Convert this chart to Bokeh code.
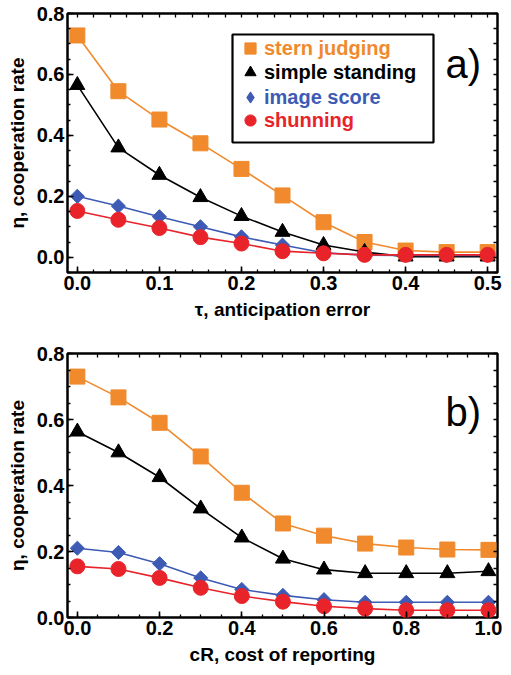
from bokeh.plotting import figure
from bokeh.models import (Legend, LegendItem, Label, BoxAnnotation, LinearAxis,
                          SingleIntervalTicker, FixedTicker, PrintfTickFormatter)
from bokeh.layouts import column
from bokeh.embed import file_html
from bokeh.resources import INLINE
import math

# ---------------- data ----------------
names = ["stern judging", "simple standing", "image score", "shunning"]
colors = ["#F08A2C", "#000000", "#3D5BB5", "#E8242A"]

tau = [0.0, 0.05, 0.10, 0.15, 0.20, 0.25, 0.30, 0.35, 0.40, 0.45, 0.50]
stern_a = [0.728, 0.545, 0.452, 0.374, 0.290, 0.203, 0.115, 0.050, 0.022, 0.017, 0.017]
simple_a = [0.565, 0.360, 0.270, 0.197, 0.135, 0.083, 0.040, 0.017, 0.002, 0.002, 0.002]
image_a = [0.200, 0.168, 0.133, 0.100, 0.067, 0.040, 0.015, 0.007, 0.006, 0.006, 0.006]
shun_a = [0.152, 0.123, 0.096, 0.066, 0.045, 0.020, 0.013, 0.008, 0.008, 0.008, 0.008]

cost = [0.0, 0.1, 0.2, 0.3, 0.4, 0.5, 0.6, 0.7, 0.8, 0.9, 1.0]
stern_b = [0.730, 0.667, 0.590, 0.488, 0.378, 0.285, 0.248, 0.224, 0.212, 0.206, 0.205]
simple_b = [0.563, 0.500, 0.425, 0.330, 0.242, 0.178, 0.145, 0.134, 0.134, 0.134, 0.140]
image_b = [0.210, 0.197, 0.163, 0.120, 0.085, 0.067, 0.054, 0.046, 0.046, 0.046, 0.046]
shun_b = [0.155, 0.147, 0.120, 0.090, 0.065, 0.048, 0.034, 0.027, 0.022, 0.022, 0.022]

y_label = "η, cooperation rate"
x_label_a = "τ, anticipation error"
x_label_b = "cR, cost of reporting"

# mirror tick positions (top / right frame edges)
mirror_x_a = [i * 0.02 for i in range(26)]
mirror_x_b = [i * 0.05 for i in range(21)]
mirror_y_a = [-0.05 + i * 0.05 for i in range(18)]
mirror_y_b = [i * 0.05 for i in range(17)]

FONT = "Liberation Sans"
markers = [("square", 15, 0.0), ("triangle", 15, 0.0), ("square", 10, math.pi / 4), ("circle", 15, 0.0)]


def style_axis(ax, ticker, labels=True, fmt="%.1f"):
    ax.ticker = ticker
    ax.axis_line_color = None
    ax.major_tick_in = 6
    ax.major_tick_out = 0
    ax.minor_tick_in = 3
    ax.minor_tick_out = 0
    ax.major_tick_line_width = 1.6
    ax.minor_tick_line_width = 1.3
    ax.major_tick_line_color = "black"
    ax.minor_tick_line_color = "black"
    if labels:
        ax.formatter = PrintfTickFormatter(format=fmt)
        ax.major_label_text_font = FONT
        ax.major_label_text_font_style = "bold"
        ax.major_label_text_font_size = "20px"
        ax.major_label_text_color = "black"
        ax.major_label_standoff = 3
        ax.axis_label_text_font = FONT
        ax.axis_label_text_font_style = "bold"
        ax.axis_label_text_font_size = "19px"
        ax.axis_label_text_color = "black"
        ax.axis_label_standoff = 6
    else:
        ax.minor_tick_in = 4
        ax.major_label_standoff = 0


def make_panel(xs, series, xr, yr, xint, xminor, mx, my, xlabel, tag,
               border_top, border_bottom, fh, tag_y):
    p = figure(frame_width=430, frame_height=fh, x_range=xr, y_range=yr,
               output_backend="svg", toolbar_location=None,
               min_border_left=67, min_border_right=6,
               min_border_top=border_top, min_border_bottom=border_bottom)
    p.grid.visible = False
    p.outline_line_color = "black"
    p.outline_line_width = 2.5
    p.background_fill_color = "white"
    p.border_fill_color = "white"

    style_axis(p.xaxis[0], SingleIntervalTicker(interval=xint, num_minor_ticks=xminor))
    style_axis(p.yaxis[0], SingleIntervalTicker(interval=0.2, num_minor_ticks=4))
    p.xaxis[0].axis_label = xlabel
    p.yaxis[0].axis_label = y_label

    top = LinearAxis()
    style_axis(top, FixedTicker(ticks=[], minor_ticks=mx), labels=False)
    p.add_layout(top, "above")
    right = LinearAxis()
    style_axis(right, FixedTicker(ticks=[], minor_ticks=my), labels=False)
    p.add_layout(right, "right")

    scat = []
    for ys, col, (mk, sz, ang) in zip(series, colors, markers):
        p.line(xs, ys, line_color=col, line_width=1.6)
        if ang:
            # small diamond hidden under the rotated square, used as legend glyph
            r = p.scatter(xs, ys, marker="diamond", size=9, fill_color=col, line_color=col)
            p.scatter(xs, ys, marker=mk, size=sz, angle=ang, fill_color=col, line_color=col)
        else:
            r = p.scatter(xs, ys, marker=mk, size=sz, fill_color=col, line_color=col)
        scat.append(r)

    if tag == "a)":
        p.add_layout(BoxAnnotation(left=165, right=366, bottom=130, top=238,
                                   left_units="screen", right_units="screen",
                                   bottom_units="screen", top_units="screen",
                                   fill_color=None, fill_alpha=0,
                                   line_color="black", line_alpha=1.0, line_width=2.2))
        centers = [224, 200, 175, 152]
        for name, col, r, cy in zip(names, colors, scat, centers):
            leg = Legend(items=[LegendItem(label=name, renderers=[r])],
                         location=(169, cy - 14),
                         label_text_color=col, label_text_font=FONT,
                         label_text_font_style="bold", label_text_font_size="20px",
                         glyph_width=28, glyph_height=28, label_height=28,
                         padding=0, margin=0, spacing=0, label_standoff=0,
                         border_line_color=None, background_fill_alpha=0)
            p.add_layout(leg, "center")

    p.add_layout(Label(x=378, y=tag_y, x_units="screen", y_units="screen", text=tag,
                       text_font=FONT, text_font_size="40px", text_baseline="middle",
                       text_color="black"))
    return p


pa = make_panel(tau, [stern_a, simple_a, image_a, shun_a], (-0.012, 0.512), (-0.05, 0.8),
                0.1, 5, mirror_x_a, mirror_y_a, x_label_a, "a)", 13, 58, 259, 209)
pb = make_panel(cost, [stern_b, simple_b, image_b, shun_b], (-0.024, 1.022), (0.0, 0.8),
                0.2, 4, mirror_x_b, mirror_y_b, x_label_b, "b)", 23, 50, 264, 206)

layout = column(pa, pb, spacing=0)
open("out.html", "w").write(file_html(layout, INLINE))
